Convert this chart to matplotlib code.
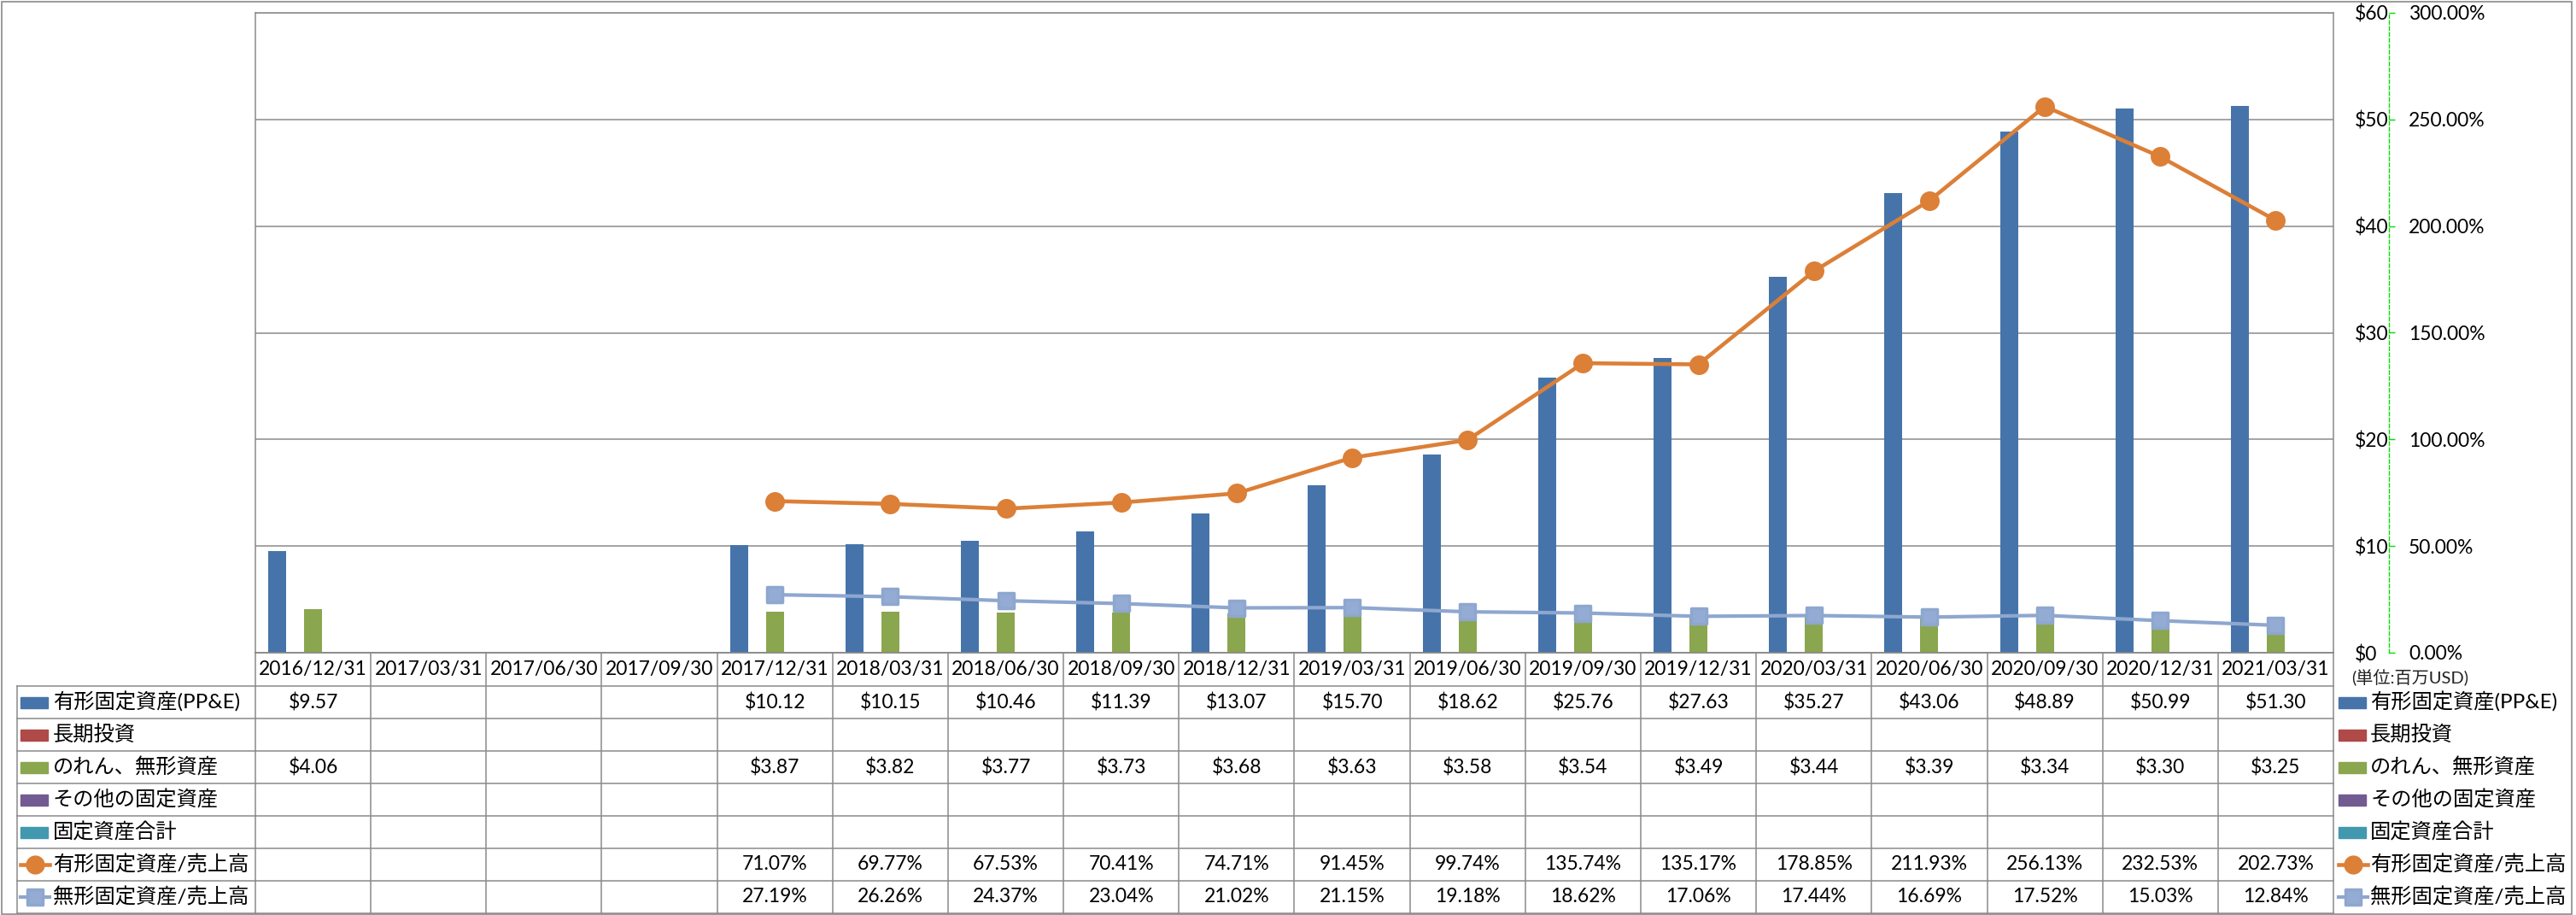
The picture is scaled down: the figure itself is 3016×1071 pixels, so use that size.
import numpy as np
import matplotlib.pyplot as plt
from matplotlib.markers import MarkerStyle
from matplotlib.lines import Line2D
from matplotlib.patches import Rectangle
import matplotlib.transforms as mtransforms

plt.rcParams['font.family'] = ['Lato', 'Noto Sans CJK JP', 'DejaVu Sans']

nan = np.nan

dates = ['2016/12/31', '2017/03/31', '2017/06/30', '2017/09/30', '2017/12/31',
         '2018/03/31', '2018/06/30', '2018/09/30', '2018/12/31', '2019/03/31',
         '2019/06/30', '2019/09/30', '2019/12/31', '2020/03/31', '2020/06/30',
         '2020/09/30', '2020/12/31', '2021/03/31']

ppe = [9.57, nan, nan, nan, 10.12, 10.15, 10.46, 11.39, 13.07, 15.70,
       18.62, 25.76, 27.63, 35.27, 43.06, 48.89, 50.99, 51.30]
invest = [nan] * 18
goodwill = [4.06, nan, nan, nan, 3.87, 3.82, 3.77, 3.73, 3.68, 3.63,
            3.58, 3.54, 3.49, 3.44, 3.39, 3.34, 3.30, 3.25]
other = [nan] * 18
total = [nan] * 18
ppe_ratio = [nan, nan, nan, nan, 71.07, 69.77, 67.53, 70.41, 74.71, 91.45,
             99.74, 135.74, 135.17, 178.85, 211.93, 256.13, 232.53, 202.73]
intang_ratio = [nan, nan, nan, nan, 27.19, 26.26, 24.37, 23.04, 21.02, 21.15,
                19.18, 18.62, 17.06, 17.44, 16.69, 17.52, 15.03, 12.84]

names = ['有形固定資産(PP&E)', '長期投資', 'のれん、無形資産', 'その他の固定資産',
         '固定資産合計', '有形固定資産/売上高', '無形固定資産/売上高']
colors = ['#4674AA', '#AF4A48', '#8AA64E', '#725B91', '#4298AF', '#DC7F37', '#8EA7CF']

usd_ticks = [0, 10, 20, 30, 40, 50, 60]
usd_labels = ['$0', '$10', '$20', '$30', '$40', '$50', '$60']
pct_ticks = [0, 50, 100, 150, 200, 250, 300]
pct_labels = ['0.00%', '50.00%', '100.00%', '150.00%', '200.00%', '250.00%', '300.00%']
unit_text = '(単位:百万USD)'

W, H = 3016, 1071
fig = plt.figure(figsize=(W / 100, H / 100), dpi=100)

def fx(px):
    return px / W

def fy(py):
    return 1 - py / H

left, right, top, bottom = 299, 2732, 15, 764
ax = fig.add_axes([fx(left), fy(bottom), fx(right - left), (bottom - top) / H])
ax2 = ax.twinx()

grey = '#8A8A8A'
n = len(dates)
x = np.arange(n)
bw = 0.1556
bar_series = [ppe, invest, goodwill, other, total]
for k, vals in enumerate(bar_series):
    ax.bar(x + (k - 2) * bw, vals, width=bw, color=colors[k], zorder=3)

ax.set_xlim(-0.5, n - 0.5)
ax.set_ylim(0, 60)
ax.set_yticks(usd_ticks)
ax.set_yticklabels(usd_labels)
ax.yaxis.tick_right()
ax.tick_params(axis='y', length=0, pad=18, labelsize=16.5)
ax.set_xticks([])
ax.grid(axis='y', color=grey, lw=1.1)
ax.set_axisbelow(True)
for s in ax.spines.values():
    s.set_color(grey)
    s.set_linewidth(1.1)

circ = MarkerStyle('o')
sq = MarkerStyle('s', joinstyle='round')
ax2.plot(x, ppe_ratio, color=colors[5], lw=3.3, marker=circ, ms=15.5,
         mfc=colors[5], mec=colors[5], mew=1, zorder=5)
ax2.plot(x, intang_ratio, color=colors[6], lw=3, marker=sq, ms=13.5,
         mfc='#94ACD4', mec=colors[6], mew=2.5, zorder=4)
ax2.set_ylim(0, 300)
ax2.set_yticks(pct_ticks)
ax2.set_yticklabels(pct_labels)
ax2.spines['right'].set_position(('outward', 65 * 0.72))
ax2.spines['right'].set_color('#00DD00')
ax2.spines['right'].set_linestyle((0, (3, 2)))
ax2.spines['right'].set_linewidth(1)
for nm in ['top', 'left', 'bottom']:
    ax2.spines[nm].set_visible(False)
ax2.tick_params(axis='y', direction='out', length=5, width=1, color='#00DD00',
                pad=11.5, labelsize=16.5)

fig.text(fx(2753), fy(793), unit_text, fontsize=14.5, ha='left', va='center',
         color='#222222')

# data table under the chart
tr = mtransforms.blended_transform_factory(ax.transData, fig.transFigure)
rows_y = [764, 803, 841, 879, 917, 955, 993, 1031, 1069]
lkw = dict(color=grey, lw=1.1, clip_on=False)
for yy in rows_y:
    fig.add_artist(Line2D([-0.5, n - 0.5], [fy(yy), fy(yy)], transform=tr, **lkw))
for yy in rows_y[1:]:
    fig.add_artist(Line2D([fx(20), fx(left)], [fy(yy), fy(yy)], **lkw))
fig.add_artist(Line2D([fx(20), fx(20)], [fy(803), fy(1069)], **lkw))
for i in range(n + 1):
    fig.add_artist(Line2D([i - 0.5, i - 0.5], [fy(764), fy(1069)], transform=tr, **lkw))

for i, d in enumerate(dates):
    fig.text(i, fy(783.5), d, transform=tr, ha='center', va='center', fontsize=16.5)

table_vals = [
    ['' if np.isnan(v) else f'${v:.2f}' for v in ppe],
    ['' if np.isnan(v) else f'${v:.2f}' for v in invest],
    ['' if np.isnan(v) else f'${v:.2f}' for v in goodwill],
    ['' if np.isnan(v) else f'${v:.2f}' for v in other],
    ['' if np.isnan(v) else f'${v:.2f}' for v in total],
    ['' if np.isnan(v) else f'{v:.2f}%' for v in ppe_ratio],
    ['' if np.isnan(v) else f'{v:.2f}%' for v in intang_ratio],
]
for r, vals in enumerate(table_vals):
    yc = fy((rows_y[r + 1] + rows_y[r + 2]) / 2)
    for i, s in enumerate(vals):
        if s:
            fig.text(i, yc, s, transform=tr, ha='center', va='center', fontsize=16.5)

def legend_key(x0, yc, k):
    if k < 5:
        fig.add_artist(Rectangle((fx(x0), yc - 6.5 / H), 32 / W, 13 / H,
                                 color=colors[k], transform=fig.transFigure))
    elif k == 5:
        fig.add_artist(Line2D([fx(x0), fx(x0 + 34)], [yc, yc], color=colors[5], lw=3.3))
        fig.add_artist(Line2D([fx(x0 + 17)], [yc], marker=circ, ms=15,
                              ls='none', mfc=colors[5], mec=colors[5]))
    else:
        fig.add_artist(Line2D([fx(x0), fx(x0 + 34)], [yc, yc], color=colors[6], lw=3))
        fig.add_artist(Line2D([fx(x0 + 17)], [yc], marker=sq, ms=13, ls='none',
                              mfc='#94ACD4', mec=colors[6], mew=2.5))

for r, nm in enumerate(names):
    yc = fy((rows_y[r + 1] + rows_y[r + 2]) / 2)
    legend_key(24, yc, r)
    fig.text(fx(62), yc, nm, ha='left', va='center', fontsize=17.5)
    legend_key(2738, yc, r)
    fig.text(fx(2775), yc, nm, ha='left', va='center', fontsize=17.5)

fig.add_artist(Rectangle((0.0005, 0.001), 0.998, 0.997, fill=False, ec='#8A8A8A',
                         lw=1.2, transform=fig.transFigure))

fig.savefig('out.png', dpi=100)
